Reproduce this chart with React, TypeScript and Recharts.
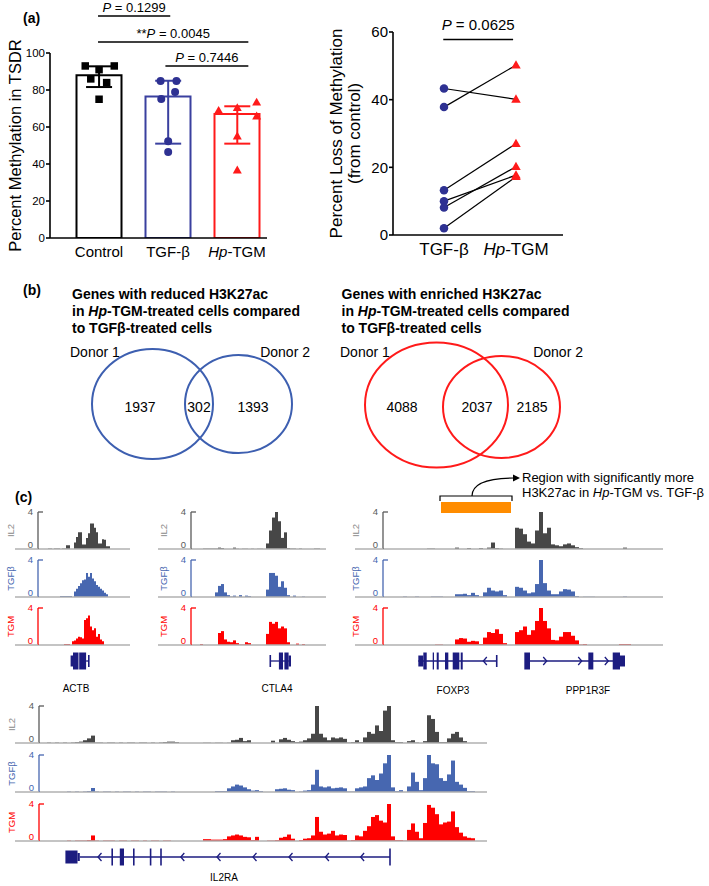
// Treg methylation / H3K27ac figure — three panels rebuilt with Recharts.
// (a) bar+dot chart and paired loss chart, (b) two Venn diagrams,
// (c) genome-browser style coverage tracks with gene models underneath.

import React from "react";
import {
  Bar,
  BarChart,
  Cell,
  ComposedChart,
  ErrorBar,
  ReferenceArea,
  ReferenceLine,
  Scatter,
  XAxis,
  YAxis,
} from "recharts";

const FONT = '"Liberation Sans", Arial, Helvetica, sans-serif';
const NAVY = "#2e3192";
const BLUE_BAR = "#3a409f";
const RED = "#ff1a1a";
const GENE = "#1c1c80";
const AXIS = { stroke: "#000", strokeWidth: 1.6 };

// ---------- panel (a) data ----------
const groupNames = ["Control", "TGF-β", "Hp-TGM"];
const groupColors = ["#000", BLUE_BAR, RED];
const groupMeans = [88, 76.5, 67];
const groupErrLow = [6.4, 25.5, 16];
const groupErrHigh = [4.8, 8.5, 4.2];
const controlValues = [93, 91, 93, 86, 84, 75];
const controlJitter = [-0.2, 0, 0.22, -0.12, 0.11, 0];
const tgfbValues = [84.9, 84.9, 78.9, 75.1, 52.3, 46.5];
const tgfbJitter = [-0.11, 0.12, 0.1, -0.1, 0, 0];
const tgmValues = [68.8, 70.3, 73.3, 65.8, 55, 36.6];
const tgmJitter = [-0.27, 0, 0.28, 0.28, 0, 0];
const sigFrom = [0.985, 0.985, 1.96];
const sigTo = [2.03, 3.16, 3.16];
const sigY = [120, 106, 93];
const sigStars = ["", "**", ""];
const sigP = ["0.1299", "0.0045", "0.7446"];

const pairedNames = ["TGF-β", "Hp-TGM"];
const lossTgfb = [43.3, 37.8, 13.2, 10.0, 8.1, 2.0];
const lossTgm = [40.1, 50.2, 27.0, 17.7, 20.2, 17.2];
const lossSigFrom = 0.99;
const lossSigTo = 1.96;
const lossSigY = 57.8;
const lossSigP = "0.0625";

// ---------- panel (b) data ----------
const reducedSets = [
  { cx: 92.5, cy: 71, rx: 60.5, ry: 55 },
  { cx: 178.5, cy: 71, rx: 53.5, ry: 49 },
];
const reducedCounts = [
  { x: 80, y: 68, n: "1937" },
  { x: 139, y: 68, n: "302" },
  { x: 193, y: 68, n: "1393" },
];
const enrichedSets = [
  { cx: 96.5, cy: 70, rx: 71.5, ry: 62.5 },
  { cx: 161.5, cy: 68, rx: 58.5, ry: 51 },
];
const enrichedCounts = [
  { x: 62, y: 68, n: "4088" },
  { x: 137, y: 68, n: "2037" },
  { x: 192, y: 68, n: "2185" },
];

// ---------- panel (c) coverage (one value per bin) ----------
const actbIL2 = [0,0,0,0,0, .05,.05,0,.05,.05,.05,0,.05,.05, .4,.4, 0,0, .7,1.3,1.8,1.8,.5,.5,1.2,1.7,2.75,2.75,2.3,1.8,.6,.6,1.05,1.0,.3,.3, 0,0,0,0,0,0,0,0,0,0];
const actbTGFB = [0,0,0,0,0,0,0,0,0,0,0, .1,.1,.1,.1,.1,.1, 0, .6,.9,1.2,1.5,1.8,1.9,2.6,2.2,2.6,2.0,1.7,1.3,1.1,.9,.7,.45,.3, 0,0,0,0,0,0,0,0,0,0,0];
const actbTGM = [0,0,0,0,0,0,0,0,0,0,0,0,0, .1,.1,.1, 0, .4,.5,.7,.9,.85,.7,2.7,2.9,3.2,2.0,1.6,1.8,.9,1.2,.6,.4, 0,0,0,0,0,0,0,0,0,0,0,0,0];

const ctlaIL2 = [0,0,0,0, .05,.05,.05,.05,.05, .15, .1, 0,0,0, .15, .03,0,.03,.03,0,.03,0,.03,.03,0, .6,2.0,3.4,4.0,3.0,1.2,1.8,.1, .05,.05,0,.05,0, 0,0,0, .05,.05, 0,0];
const ctlaTGFB = [0,0,0,0,0,0,0,0, .5,1.2,1.4,.5,.2,.05,.15,0,.2,0,.15,.1, 0,0,0,0,0, .8,2.6,2.6,2.3,1.1,1.7,1.0,.2, 0,.15,0,0,.05, 0,0,0,0,0,0,0];
const ctlaTGM = [0,0,0, .1, 0,0,0,0,0, 1.3,1.5,.6,.35,.3,.5,.2,.05,.05,.3,.2, 0,0,0,0,0, 1.2,2.5,2.3,2.5,1.8,2.0,1.8,.3, 0,0,.15,0,.1, 0,0,0,0,0,0,0];

const foxIL2 = [0,0,0,0,0,0,0,0,0,0,0, .05,.05, 0,0,0,0,0, .15,0,0,.1,0,0,.1,0,.15,.7,.1,.05, 0,0,0, 2.3,2.2,1.6,.8,.6,2.0,4.0,1.7,2.3,.5,.4,.3,.5,.6,.4,.2,.1, 0,0,0,0,0,0,0,0,0,0, .15, 0,0,0,0,0,0,0,0,0];
const foxTGFB = [0,0,0,0,0, .05,0,0,.05, 0,0,0, .05,.05,.05, 0,0,0, .3,.3,.35,.2,.45,.2,.05,.5,1.0,.7,.6,.7,.2, 0,0, 1.1,1.0,.7,.4,.5,1.4,4.0,1.5,.7,.3,.3,.6,.85,.8,.6,.1, 0,.03,.03,.03, 0,0,0,0,0,0,0, .05, 0,0,0,0,0,0,0,0,0];
const foxTGM = [0,0,0,0,0,0,0,0,0,0,0,0,0, .05,.05, 0,0,0, .6,.75,.7,.35,.45,.4,.1,.8,1.4,1.3,1.7,1.2,.2, 0,0, 1.4,1.6,2.0,1.1,1.6,2.6,4.0,2.6,1.8,.55,.5,.9,1.4,1.4,1.0,.5,.05,.1, 0,0,0,0,0,0,0,0, .1,.1,.1, 0,0,0,0,0,0,0,0];

const il2raIL2 = [0,0, .05,0,.05,0,.05,0,.05,.1,.15,.3,.5,.8,.05,
  .05,0,.05,.05,0,.05,0,.05,.05,0,.05,.05,0,.05,0,.05,
  .1,.15,.15,.1, 0,0,0,0,0,0, .03,.03,0,.03,.03,0,.03, .3,.35,.55,.2,.3, 0,0,0,0,0,
  .25,0,.4,.55,.35,.2,.1,.15,.3,.5, 1.0,4.0,1.0,.6,.3,.6,.5,.6,.45,.05,
  .1,.3,.1,.6,1.2,1.0,1.9,1.3,3.5,4.0, .3,.1,.1,0,.2,.3,.05,0,.2,3.0,
  2.6,1.2,.1,.1,.5,1.0,1.2,.6,.2, 0,0,0,0,0];
const il2raTGFB = [0,0,0,0,0,0,0,
  .05,0,.05,0,.05,.1,.43,.05,0,.05, .05,0,.05,0,.05,.05,0,.05,0,.05, .05,0,.05,.05,.05,0,.05,0,0,0, 0,0,
  0,0,0,0,0,
  .1,.1,.1,.4,.6,.8,.7,.5,.3,.15,.2,.1, 0,0,0, .3,.35,.4,.25,.2, 0,
  .05,.15,.2,.8,2.4,.6,.5,.6,.4,.45, .5,.4,.05,.05,.4,.5,.6,1.5,1.8,1.3,
  2.0,3.1,4.0,.5,.1,.2,0,.6,2.1,1.1, .2,1.5,4.0,3.1,3.0,1.5,1.2,1.9,3.4,1.1,
  .8,.45,.1,.1, 0,0,0];
const il2raTGM = [0,0,0,0,0,0,0,
  .05,0,.05,.05,.05,.1,.6,.05,0,.05, .05,.05,0,.05,.05,0,.05,.05,0,.05, 0,.05,.05,0,.05,.05,0,
  0,0,0,0,0,0,0,
  .2,.2,.15,.15,.15,.2,.5,.6,.7,.6,.45,.4,.1,.45, 0,0,
  .05,.05,.1,.35,.45,.7,.25,0,.1,.25, .3,.6,2.6,1.0,.7,.8,1.1,.6,.7,.65,
  .05,.1,.6,.5,1.1,1.6,2.6,2.8,2.2,2.0, 4.0,.5,.1,.1,.05,1.2,1.9,1.0,.3,1.95,
  3.9,3.6,2.9,1.8,2.0,2.1,3.2,1.5,.9,.5, .35,.3, 0,0,0];

// gene models, in bin units of each locus: [start, end, half-height px]
const actbExons = [[16.3, 17.5, 5.5], [17.5, 20.25, 8.5], [20.6, 24.05, 8.5]];
const actbIntrons = [[24.05, 25.4]];
const actbEnds = [[25.4, 6]];
const ctlaExons = [[29.3, 30.67, 8.5], [31.13, 32.53, 8.5], [32.53, 33.33, 5.5]];
const ctlaIntrons = [[26.43, 32.6]];
const ctlaEnds = [[26.43, 6]];
const foxExons = [
  [8.83, 10.08, 5.5], [10.08, 10.93, 8.5], [12.43, 12.75, 8.5], [13.43, 13.93, 8.5],
  [15.5, 16.33, 8.5], [17.43, 19.08, 8.5], [19.43, 19.93, 8.5],
  [35.33, 36.75, 8.5], [51.33, 52.58, 8.5], [57.43, 59.25, 8.5], [59.25, 60.5, 5.5],
];
const foxIntrons = [[8.83, 28.43], [36.75, 59.25]];
const foxEnds = [[28.43, 6]];
const foxArrows = [{ x: 25.08, y: 0, dir: -1 }, { x: 40.93, y: 0, dir: 1 }, { x: 49.68, y: 0, dir: 1 }, { x: 56.33, y: 0, dir: 1 }];
const il2raExons = [
  [6.6, 9.63, 6.5], [9.63, 10.2, 4], [18.1, 18.5, 8.5], [20.2, 21.25, 8.5],
  [23.5, 23.9, 8.5], [27.7, 28.1, 8.5], [30.3, 30.7, 8.5],
];
const il2raIntrons = [[10.2, 87.75]];
const il2raEnds = [[87.75, 8.5]];
const il2raArrows = [14.75, 35.45, 44.5, 53.5, 62.5, 71.6, 80.4].map((x) => ({ x, y: 0, dir: -1 }));

const regionStart = 14.5;
const regionEnd = 32;

const trackNames = ["IL2", "TGFβ", "TGM"];
const trackBar = ["#474747", "#4767b0", "#ff0000"];
const trackAxis = ["#5a5a5a", "#4767b0", "#ff0000"];
const trackLabel = ["#8a8a8a", "#4767b0", "#ff0000"];
const TRACK_H = 37;

// ---------- shared bits ----------
function Blank() {
  return <g />;
}

function Marker(props: any) {
  const { cx, cy, mkind, mcolor, msize } = props;
  if (cx == null || cy == null) return null;
  const s = msize;
  if (mkind === "square") return <rect x={cx - s / 2} y={cy - s / 2} width={s} height={s} fill={mcolor} />;
  if (mkind === "circle") return <circle cx={cx} cy={cy} r={s / 2} fill={mcolor} />;
  const h = s * 0.87;
  return (
    <path
      d={`M ${cx} ${cy - h * 0.6} L ${cx - s / 2} ${cy + h * 0.4} L ${cx + s / 2} ${cy + h * 0.4} Z`}
      fill={mcolor}
    />
  );
}

function hpText(label: string) {
  if (label.startsWith("Hp-")) {
    return (
      <>
        <tspan fontStyle="italic">Hp</tspan>
        {label.slice(2)}
      </>
    );
  }
  return label;
}

// tick label: payload is either a category name or a 1-based group index
function GroupTick(props: any) {
  const { x, y, payload, names, size } = props;
  const label = typeof payload.value === "string" ? payload.value : names[Math.round(payload.value) - 1] ?? "";
  return (
    <text x={x} y={y + size * 0.71} textAnchor="middle" fontSize={size} fontFamily={FONT} fill="#000">
      {hpText(label)}
    </text>
  );
}

function AxisTitle(props: any) {
  const vb = props.viewBox || {};
  const left = vb.x ?? 0;
  const cy = (vb.y ?? 0) + (vb.height ?? 0) / 2;
  return (
    <g>
      {props.lines.map((t: string, i: number) => {
        const cx = left + props.xs[i];
        return (
          <text
            key={t}
            x={cx}
            y={cy}
            transform={`rotate(-90 ${cx} ${cy})`}
            textAnchor="middle"
            dominantBaseline="central"
            fontSize={props.size}
            fontFamily={FONT}
            fill="#000"
          >
            {t}
          </text>
        );
      })}
    </g>
  );
}

function SigLabel(props: any) {
  const vb = props.viewBox || {};
  const x1 = vb.x ?? vb.x1 ?? 0;
  const w = vb.width ?? (vb.x2 != null ? vb.x2 - vb.x1 : 0);
  const y = (vb.y ?? vb.y1 ?? 0) - props.gap;
  return (
    <text x={x1 + w / 2} y={y} textAnchor="middle" fontSize={props.size} fontFamily={FONT} fill="#000">
      {props.stars}
      <tspan fontStyle="italic">P</tspan>
      {` = ${props.p}`}
    </text>
  );
}

// ---------- panel (a) ----------
function MethylationChart() {
  const bars = groupNames.map((g, i) => ({ name: g, mean: groupMeans[i] }));
  const dots = (vals: number[], jit: number[], g: number) =>
    vals.map((v, k) => ({ x: g + 1 + jit[k], y: v }));
  return (
    <ComposedChart width={270} height={265} data={bars} margin={{ top: 53, right: 3, bottom: 0, left: 0 }}>
      <XAxis
        xAxisId="cat"
        dataKey="name"
        type="category"
        padding={{ left: 14.5, right: -4.5 }}
        interval={0}
        height={27}
        tickLine={false}
        tickSize={6}
        tickMargin={2}
        axisLine={AXIS}
        tick={<GroupTick names={groupNames} size={15} />}
      />
      <XAxis
        xAxisId="num"
        dataKey="x"
        type="number"
        domain={[0.29, 3.43]}
        allowDataOverflow
        hide
        tick={false}
      />
      <YAxis
        type="number"
        domain={[0, 100]}
        ticks={[0, 20, 40, 60, 80, 100]}
        interval={0}
        allowDataOverflow
        width={50}
        tickSize={4}
        tickMargin={1}
        axisLine={AXIS}
        tickLine={AXIS}
        tick={{ fontSize: 11.5, fill: "#000", fontFamily: FONT }}
        label={<AxisTitle lines={["Percent Methylation in TSDR"]} xs={[15]} size={16.5} />}
      />
      <Bar xAxisId="cat" dataKey="mean" barSize={45} isAnimationActive={false}>
        {groupColors.map((c, i) => (
          <Cell key={i} fill="#fff" stroke={c} strokeWidth={2} />
        ))}
      </Bar>
      {groupMeans.map((m, i) => (
        <Scatter
          key={`err-${i}`}
          xAxisId="num"
          data={[{ x: i + 1, y: m, err: [groupErrLow[i], groupErrHigh[i]] }]}
          dataKey="y"
          shape={<Blank />}
          isAnimationActive={false}
        >
          <ErrorBar dataKey="err" direction="y" width={13} stroke={groupColors[i]} strokeWidth={2} />
        </Scatter>
      ))}
      <Scatter xAxisId="num" data={dots(controlValues, controlJitter, 0)} dataKey="y" isAnimationActive={false}
        shape={<Marker mkind="square" mcolor="#000" msize={7.5} />} />
      <Scatter xAxisId="num" data={dots(tgfbValues, tgfbJitter, 1)} dataKey="y" isAnimationActive={false}
        shape={<Marker mkind="circle" mcolor={NAVY} msize={8} />} />
      <Scatter xAxisId="num" data={dots(tgmValues, tgmJitter, 2)} dataKey="y" isAnimationActive={false}
        shape={<Marker mkind="triangle" mcolor={RED} msize={9} />} />
      {sigY.map((y, i) => (
        <ReferenceLine
          key={`sig-${i}`}
          xAxisId="num"
          segment={[{ x: sigFrom[i], y }, { x: sigTo[i], y }]}
          stroke="#000"
          strokeWidth={1.5}
          ifOverflow="visible"
          label={<SigLabel stars={sigStars[i]} p={sigP[i]} gap={4} size={13} />}
        />
      ))}
    </ComposedChart>
  );
}

function LossChart() {
  return (
    <ComposedChart width={250} height={262} margin={{ top: 32, right: 7, bottom: 0, left: 0 }}>
      <XAxis
        dataKey="x"
        type="number"
        domain={[0.292, 2.653]}
        ticks={[1, 2]}
        interval={0}
        allowDataOverflow
        height={27}
        tickLine={false}
        tickSize={6}
        tickMargin={2}
        axisLine={AXIS}
        tick={<GroupTick names={pairedNames} size={17} />}
      />
      <YAxis
        type="number"
        domain={[0, 60]}
        ticks={[0, 20, 40, 60]}
        interval={0}
        allowDataOverflow
        width={73}
        tickSize={4}
        tickMargin={1}
        axisLine={AXIS}
        tickLine={AXIS}
        tick={{ fontSize: 15, fill: "#000", fontFamily: FONT }}
        label={<AxisTitle lines={["Percent Loss of Methylation", "(from control)"]} xs={[16, 34]} size={17} />}
      />
      {lossTgfb.map((a, i) => (
        <Scatter
          key={`pair-${i}`}
          data={[{ x: 1, y: a }, { x: 2, y: lossTgm[i] }]}
          dataKey="y"
          line={{ stroke: "#000", strokeWidth: 1.2 }}
          shape={<Blank />}
          isAnimationActive={false}
        />
      ))}
      <Scatter data={lossTgfb.map((v) => ({ x: 1, y: v }))} dataKey="y" isAnimationActive={false}
        shape={<Marker mkind="circle" mcolor={NAVY} msize={8.5} />} />
      <Scatter data={lossTgm.map((v) => ({ x: 2, y: v }))} dataKey="y" isAnimationActive={false}
        shape={<Marker mkind="triangle" mcolor={RED} msize={9.5} />} />
      <ReferenceLine
        segment={[{ x: lossSigFrom, y: lossSigY }, { x: lossSigTo, y: lossSigY }]}
        stroke="#000"
        strokeWidth={1.5}
        ifOverflow="visible"
        label={<SigLabel stars="" p={lossSigP} gap={9} size={15} />}
      />
    </ComposedChart>
  );
}

// ---------- panel (b) ----------
function EllipseShape(props: any) {
  const { x, y, width, height, ecolor } = props;
  return (
    <ellipse
      cx={x + width / 2}
      cy={y + height / 2}
      rx={Math.abs(width) / 2}
      ry={Math.abs(height) / 2}
      fill="none"
      stroke={ecolor}
      strokeWidth={2}
    />
  );
}

function CountLabel(props: any) {
  const { cx, cy, payload } = props;
  return (
    <text x={cx} y={cy} textAnchor="middle" dominantBaseline="central" fontSize={14} fontFamily={FONT} fill="#000">
      {payload.n}
    </text>
  );
}

function Venn({ sets, counts, color }: { sets: typeof reducedSets; counts: typeof reducedCounts; color: string }) {
  return (
    <ComposedChart width={260} height={140} data={counts} margin={{ top: 0, right: 0, bottom: 0, left: 0 }}>
      <XAxis type="number" dataKey="x" domain={[0, 260]} hide tick={false} />
      <YAxis type="number" domain={[0, 140]} hide tick={false} />
      {sets.map((s, i) => (
        <ReferenceArea
          key={i}
          x1={s.cx - s.rx}
          x2={s.cx + s.rx}
          y1={s.cy - s.ry}
          y2={s.cy + s.ry}
          ifOverflow="visible"
          shape={<EllipseShape ecolor={color} />}
        />
      ))}
      <Scatter data={counts} dataKey="y" shape={<CountLabel />} isAnimationActive={false} />
    </ComposedChart>
  );
}

// ---------- panel (c) ----------
function TrackTick(props: any) {
  const { x, y, payload, color, labelColor, ext, name } = props;
  const ax = x + 5;
  const v = payload.value;
  const lx = ax - 28;
  const ly = y + TRACK_H / 2;
  return (
    <g fontFamily={FONT}>
      {v === 0 && <line x1={ax - ext} y1={y} x2={ax} y2={y} stroke="#b0b0b0" strokeWidth={1.5} />}
      <text x={x} y={y} dy={v === 0 ? -1 : 3} textAnchor="end" fontSize={9.5} fill={color}>
        {v}
      </text>
      {v === 4 && (
        <>
          <line x1={ax} y1={y} x2={ax + 5} y2={y} stroke={color} strokeWidth={1.3} />
          <text
            x={lx}
            y={ly}
            transform={`rotate(-90 ${lx} ${ly})`}
            textAnchor="middle"
            dominantBaseline="central"
            fontSize={9.5}
            fill={labelColor}
          >
            {name}
          </text>
        </>
      )}
    </g>
  );
}

const TRACK_YW = 40;

function Track({ baseStart, axisX, binW, baseY, values, kind }: {
  baseStart: number; axisX: number; binW: number; baseY: number; values: number[]; kind: number;
}) {
  const data = values.map((v, i) => ({ i, v }));
  const padTop = 6;
  return (
    <div style={{ position: "absolute", left: axisX - TRACK_YW, top: baseY - TRACK_H - padTop }}>
      <BarChart
        width={TRACK_YW + values.length * binW}
        height={padTop + TRACK_H + 1}
        data={data}
        margin={{ top: padTop, right: 0, bottom: 0, left: 0 }}
        barCategoryGap={0}
        barGap={0}
      >
        <XAxis dataKey="i" type="category" tick={false} tickLine={false} height={1}
          axisLine={{ stroke: "#b0b0b0", strokeWidth: 1.5 }} />
        <YAxis
          domain={[0, 4]}
          ticks={[0, 4]}
          interval={0}
          allowDataOverflow
          width={TRACK_YW}
          tickLine={false}
          tickSize={0}
          tickMargin={5}
          axisLine={{ stroke: trackAxis[kind], strokeWidth: 1.3 }}
          tick={<TrackTick color={trackAxis[kind]} labelColor={trackLabel[kind]} ext={axisX - baseStart} name={trackNames[kind]} />}
        />
        <Bar dataKey="v" fill={trackBar[kind]} isAnimationActive={false} />
      </BarChart>
    </div>
  );
}

function Chevron(props: any) {
  const { cx, cy, payload } = props;
  if (cx == null || cy == null) return null;
  const d = payload.dir;
  return (
    <path
      d={`M ${cx - d * 3.5} ${cy - 4} L ${cx} ${cy} L ${cx - d * 3.5} ${cy + 4}`}
      fill="none"
      stroke={GENE}
      strokeWidth={1.3}
    />
  );
}

function GeneModel({ left, centerY, binW, n, exons, introns, ends, arrows }: {
  left: number; centerY: number; binW: number; n: number;
  exons: number[][]; introns: number[][]; ends: number[][]; arrows: { x: number; y: number; dir: number }[];
}) {
  return (
    <div style={{ position: "absolute", left, top: centerY - 12 }}>
      <ComposedChart width={n * binW} height={24} data={arrows} margin={{ top: 0, right: 0, bottom: 0, left: 0 }}>
        <XAxis type="number" dataKey="x" domain={[0, n]} hide tick={false} allowDataOverflow />
        <YAxis type="number" domain={[-12, 12]} hide tick={false} allowDataOverflow />
        {introns.map(([s, e], i) => (
          <ReferenceLine key={`in-${i}`} segment={[{ x: s, y: 0 }, { x: e, y: 0 }]}
            stroke={GENE} strokeWidth={1.3} ifOverflow="visible" />
        ))}
        {exons.map(([s, e, h], i) => (
          <ReferenceArea key={`ex-${i}`} x1={s} x2={e} y1={-h} y2={h}
            fill={GENE} fillOpacity={1} stroke="none" ifOverflow="visible" />
        ))}
        {ends.map(([x, h], i) => (
          <ReferenceLine key={`end-${i}`} segment={[{ x, y: -h }, { x, y: h }]}
            stroke={GENE} strokeWidth={1.6} ifOverflow="visible" />
        ))}
        <Scatter data={arrows} dataKey="y" shape={<Chevron />} isAnimationActive={false} />
      </ComposedChart>
    </div>
  );
}

function BracketShape(props: any) {
  const { x, y, width, height } = props;
  return (
    <path d={`M ${x} ${y + height} V ${y} H ${x + width} V ${y + height}`} fill="#fff" stroke="#000" strokeWidth={1.2} />
  );
}

function RegionBar() {
  const pts = [{ x: regionStart, y: 0 }, { x: regionEnd, y: 0 }];
  return (
    <div style={{ position: "absolute", left: 383, top: 493 }}>
      <ComposedChart width={280} height={22} data={pts} margin={{ top: 0, right: 0, bottom: 0, left: 0 }}>
        <XAxis type="number" dataKey="x" domain={[0, 70]} hide tick={false} allowDataOverflow />
        <YAxis type="number" domain={[0, 22]} hide tick={false} allowDataOverflow />
        <ReferenceArea x1={regionStart - 0.25} x2={regionEnd + 0.25} y1={14} y2={19} shape={<BracketShape />} ifOverflow="visible" />
        <ReferenceArea x1={regionStart} x2={regionEnd} y1={2} y2={13} fill="#ff8c00" fillOpacity={1} stroke="none" ifOverflow="visible" />
        <Scatter data={pts} dataKey="y" shape={<Blank />} isAnimationActive={false} />
      </ComposedChart>
    </div>
  );
}

function Overlay() {
  const bold = { fontSize: 14, fontWeight: 700 } as const;
  const titleLines = (x: number, word: string) => (
    <>
      <text x={x} y={299} {...bold}>{`Genes with ${word} H3K27ac`}</text>
      <text x={x} y={316} {...bold}>
        in <tspan fontStyle="italic">Hp</tspan>-TGM-treated cells compared
      </text>
      <text x={x} y={333} {...bold}>to TGFβ-treated cells</text>
    </>
  );
  return (
    <svg width={709} height={886} style={{ position: "absolute", left: 0, top: 0, pointerEvents: "none" }}
      fontFamily={FONT} fill="#000">
      <text x={23} y={23} {...bold}>(a)</text>
      <text x={23} y={295} {...bold}>(b)</text>
      <text x={15} y={502} {...bold}>(c)</text>
      {titleLines(72, "reduced")}
      {titleLines(341.5, "enriched")}
      <text x={70} y={357} fontSize={14}>Donor 1</text>
      <text x={310} y={357} fontSize={14} textAnchor="end">Donor 2</text>
      <text x={340} y={357} fontSize={14}>Donor 1</text>
      <text x={583} y={357} fontSize={14} textAnchor="end">Donor 2</text>
      <path d="M 472 496 C 472 484, 486 478, 515 478" fill="none" stroke="#000" strokeWidth={1.2} />
      <path d="M 513 474.5 L 520 478 L 513 481.5 Z" fill="#000" />
      <text x={522} y={482} fontSize={13}>Region with significantly more</text>
      <text x={522} y={497} fontSize={13}>
        H3K27ac in <tspan fontStyle="italic">Hp</tspan>-TGM vs. TGF-β
      </text>
      <text x={76} y={692} fontSize={10} textAnchor="middle">ACTB</text>
      <text x={277} y={692} fontSize={10} textAnchor="middle">CTLA4</text>
      <text x={453} y={694} fontSize={10} textAnchor="middle">FOXP3</text>
      <text x={588} y={694} fontSize={10} textAnchor="middle">PPP1R3F</text>
      <text x={224} y={881} fontSize={10} textAnchor="middle">IL2RA</text>
    </svg>
  );
}

export default function App() {
  const rowA = [549, 597, 645];
  const rowB = [743, 792, 841];
  return (
    <div style={{ position: "absolute", left: 0, top: 0, width: 709, height: 886, background: "#fff", overflow: "hidden", fontFamily: FONT }}>
      <div style={{ position: "absolute", left: 0, top: 0 }}>
        <MethylationChart />
      </div>
      <div style={{ position: "absolute", left: 320, top: 0 }}>
        <LossChart />
      </div>
      <div style={{ position: "absolute", left: 60, top: 335 }}>
        <Venn sets={reducedSets} counts={reducedCounts} color="#3d5fb0" />
      </div>
      <div style={{ position: "absolute", left: 340, top: 335 }}>
        <Venn sets={enrichedSets} counts={enrichedCounts} color={RED} />
      </div>

      {[actbIL2, actbTGFB, actbTGM].map((v, k) => (
        <Track key={`actb-${k}`} baseStart={15} axisX={38} binW={2} baseY={rowA[k]} values={v} kind={k} />
      ))}
      {[ctlaIL2, ctlaTGFB, ctlaTGM].map((v, k) => (
        <Track key={`ctla-${k}`} baseStart={158} axisX={191} binW={3} baseY={rowA[k]} values={v} kind={k} />
      ))}
      {[foxIL2, foxTGFB, foxTGM].map((v, k) => (
        <Track key={`fox-${k}`} baseStart={355} axisX={383} binW={4} baseY={rowA[k]} values={v} kind={k} />
      ))}
      {[il2raIL2, il2raTGFB, il2raTGM].map((v, k) => (
        <Track key={`il2ra-${k}`} baseStart={15} axisX={39} binW={4} baseY={rowB[k]} values={v} kind={k} />
      ))}

      <RegionBar />
      <GeneModel left={38} centerY={661} binW={2} n={46} exons={actbExons} introns={actbIntrons} ends={actbEnds} arrows={[]} />
      <GeneModel left={191} centerY={661} binW={3} n={45} exons={ctlaExons} introns={ctlaIntrons} ends={ctlaEnds} arrows={[]} />
      <GeneModel left={383} centerY={661} binW={4} n={70} exons={foxExons} introns={foxIntrons} ends={foxEnds} arrows={foxArrows} />
      <GeneModel left={39} centerY={857} binW={4} n={112} exons={il2raExons} introns={il2raIntrons} ends={il2raEnds} arrows={il2raArrows} />

      <Overlay />
    </div>
  );
}
